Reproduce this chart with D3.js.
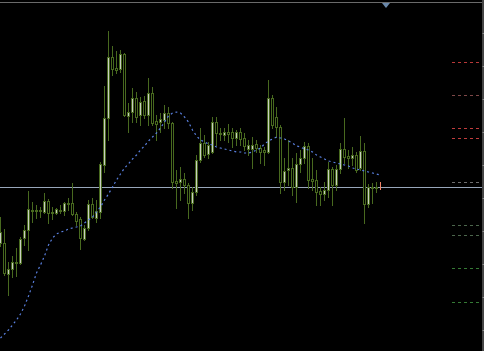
<!DOCTYPE html>
<html>
<head>
<meta charset="utf-8">
<script src="https://cdn.jsdelivr.net/npm/d3@7/dist/d3.min.js"></script>
<style>
  html, body { margin: 0; padding: 0; background: #000; }
  svg { display: block; }
</style>
</head>
<body>
<div id="chart"></div>
<script>
// price values (arbitrary points), one entry per bar
const opens  = [257,257,226,231,238,237,262,270,290,289,290,288,299,288,287,289,289,297,297,286,
                281,261,272,296,282,288,335,382,443,432,431,446,384,388,402,385,399,385,407,379,
                378,380,387,377,319,318,321,315,297,308,340,357,346,348,378,367,365,368,368,362,
                368,362,351,351,356,352,350,348,402,383,373,318,330,332,313,336,342,354,321,320,
                309,306,310,331,315,331,351,344,342,345,332,349,296,313,312,314];
const highs  = [283,271,238,244,252,263,275,309,298,295,293,307,301,293,292,295,298,302,317,288,
                283,275,300,302,300,338,414,469,454,449,450,447,397,412,408,403,404,422,413,385,
                387,395,393,378,330,333,327,317,313,345,372,365,358,383,383,372,372,376,372,370,
                372,367,360,363,360,355,353,420,405,393,375,342,360,342,347,350,358,357,342,330,
                313,318,338,333,335,357,382,350,353,348,364,357,316,317,318,318];
const lows   = [254,225,205,223,224,236,255,250,278,282,283,287,277,281,286,287,285,290,285,275,
                251,260,270,282,278,282,328,360,425,427,428,384,368,378,378,375,382,375,375,360,
                368,372,372,312,292,300,307,282,290,305,338,343,342,347,355,360,360,358,353,355,
                355,350,345,332,348,337,335,347,372,363,307,310,315,305,298,328,337,312,310,295,
                295,300,303,295,310,327,337,332,335,328,330,277,293,297,308,311];
const closes = [268,227,231,238,237,261,270,291,289,290,289,299,287,287,291,290,297,296,286,279,
                262,272,296,283,289,336,382,443,431,430,446,385,388,402,383,398,385,407,377,376,
                381,387,377,318,317,321,315,297,308,340,357,345,355,378,367,366,368,366,362,368,
                361,354,355,355,352,348,348,402,375,373,318,329,332,313,336,342,354,320,319,308,
                306,310,331,315,331,351,343,342,345,330,349,296,313,312,313,314];
const maValues = [162,166,170,175,180,186,194,204,215,227,235,244,255,262,266,268,269,271,272,273,
                  274,277,280,283,288,293,300,306,313,320,326,332,336,341,345,350,354,359,363,367,
                  372,378,384,387,388,387,383,378,370,364,360,358,356,355,353,352,351,350,349,348,
                  348,347,347,348,350,352,356,359,361,363,362,361,359,357,354,353,351,350,348,345,
                  343,341,339,338,337,336,335,334,332,331,330,329,328,327,326,325];
const bidPrice = 313;
const levelPrices = [438, 405, 372, 362, 318, 275, 265, 232, 198];
const levelColors = ['#b83838', '#7e4848', '#c03c3c', '#c03c3c', '#6e6e6e', '#4c664c', '#4c664c', '#357a35', '#357a35'];
const priceTicks = [170, 203, 236, 269, 302, 335, 368, 401, 434, 467];

const W = 484, H = 351;
const WICK = '#48691f', BULL_FILL = '#c9cec2', BEAR_FILL = '#000';

const svg = d3.select('#chart').append('svg')
  .attr('width', W).attr('height', H)
  .style('background', '#000');

const x = d3.scaleLinear().domain([0, opens.length - 1]).range([0, 4 * (opens.length - 1)]);
const y = d3.scaleLinear().domain([149, 500]).range([H, 0]);

// right price axis (labels fall outside the window)
svg.append('g')
  .attr('transform', 'translate(482.5,0)')
  .call(d3.axisRight(y).tickValues(priceTicks).tickSize(2).tickFormat(''))
  .call((ax) => ax.select('.domain').attr('stroke', '#8a8a8a').attr('d', `M0.5,0V${H}`))
  .call((ax) => ax.selectAll('line').attr('stroke', '#8a8a8a'));

// top border
svg.append('line')
  .attr('x1', 0).attr('x2', 482).attr('y1', 2.5).attr('y2', 2.5)
  .attr('stroke', '#6a6a6a');

// chart shift marker
const sx = x(96.5);
svg.append('path')
  .attr('d', `M${sx - 4},3 L${sx + 4},3 L${sx},8 Z`)
  .attr('fill', '#6a88aa');

// level markers on the right
svg.append('g').selectAll('line')
  .data(levelPrices)
  .join('line')
  .attr('x1', 452).attr('x2', 480)
  .attr('y1', (d) => Math.round(y(d)) + 0.5)
  .attr('y2', (d) => Math.round(y(d)) + 0.5)
  .attr('stroke', (d, i) => levelColors[i])
  .attr('stroke-dasharray', '3,3');

// bid line
svg.append('line')
  .attr('x1', 0).attr('x2', 482)
  .attr('y1', Math.round(y(bidPrice)) + 0.5).attr('y2', Math.round(y(bidPrice)) + 0.5)
  .attr('stroke', '#98a6ba');

// candles
const bars = d3.range(opens.length).map((i) => ({
  i, o: opens[i], h: highs[i], l: lows[i], c: closes[i]
}));
const last = bars.length - 1;

const g = svg.append('g').attr('shape-rendering', 'crispEdges');

g.selectAll('.wick')
  .data(bars)
  .join('line')
  .attr('class', 'wick')
  .attr('x1', (d) => x(d.i) + 0.5).attr('x2', (d) => x(d.i) + 0.5)
  .attr('y1', (d) => Math.round(y(d.h)))
  .attr('y2', (d) => Math.round(y(d.l)) + 1)
  .attr('stroke', (d) => d.i === last ? '#f08468' : WICK);

const bodies = bars.filter((d) => d.i !== last);

g.selectAll('.body')
  .data(bodies)
  .join('rect')
  .attr('class', 'body')
  .attr('x', (d) => x(d.i) - 1)
  .attr('width', 3)
  .attr('y', (d) => Math.round(y(Math.max(d.o, d.c))))
  .attr('height', (d) => Math.max(1, Math.round(y(Math.min(d.o, d.c))) - Math.round(y(Math.max(d.o, d.c))) + 1))
  .attr('fill', WICK);

g.selectAll('.inner')
  .data(bodies.filter((d) => Math.abs(d.o - d.c) >= 2))
  .join('rect')
  .attr('class', 'inner')
  .attr('x', (d) => x(d.i))
  .attr('width', 1)
  .attr('y', (d) => Math.round(y(Math.max(d.o, d.c))) + 1)
  .attr('height', (d) => Math.round(y(Math.min(d.o, d.c))) - Math.round(y(Math.max(d.o, d.c))) - 1)
  .attr('fill', (d) => d.c > d.o ? BULL_FILL : BEAR_FILL);

// moving average, dotted
const maLine = d3.line()
  .x((d, i) => x(i) + 0.5)
  .y((d) => y(d));

svg.append('path')
  .datum(maValues)
  .attr('d', maLine)
  .attr('fill', 'none')
  .attr('stroke', '#5a80e0')
  .attr('stroke-width', 1.2)
  .attr('stroke-dasharray', '2,3');
</script>
</body>
</html>
